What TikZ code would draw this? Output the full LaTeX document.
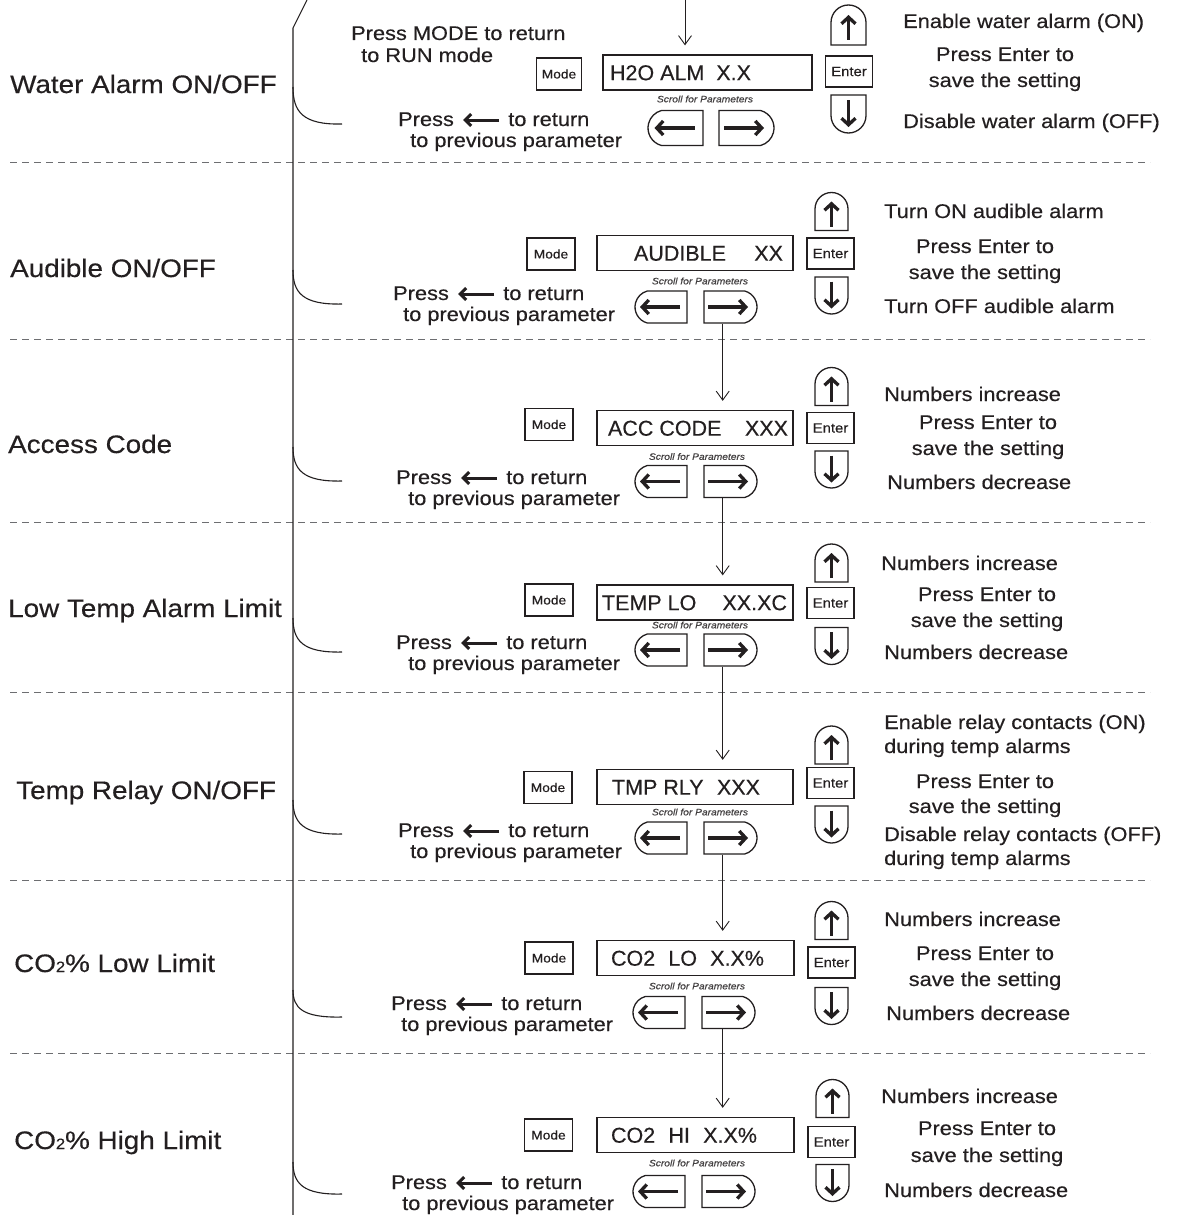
\documentclass[tikz,border=0pt]{standalone}
\usepackage{fontspec}
\setmainfont{Liberation Sans}[FakeStretch=1.1,FakeBold=0.35]
\newfontfamily\dispfont{Liberation Sans}[FakeBold=0.35]
\usetikzlibrary{shapes.misc,arrows.meta}
\definecolor{ink}{HTML}{231F20}
\definecolor{dashc}{HTML}{6D6E71}
\newcommand{\dtxt}[4]{\makebox[#1pt][l]{\hspace{#2pt}\makebox[#3pt][s]{#4}}}
\newcommand{\subtwo}{{\fontsize{15}{15}\selectfont 2}}
\begin{document}
\begin{tikzpicture}[x=1pt,y=-1pt,
  every node/.style={text=ink, inner sep=0pt},
  lbl/.style={anchor=base west, font=\fontsize{25.3}{30}\selectfont},
  txt/.style={anchor=base west, font=\fontsize{19.8}{24}\selectfont},
  ctxt/.style={anchor=base, font=\fontsize{19.8}{24}\selectfont},
  modebox/.style={draw=ink, line width=1.2pt, minimum width=48pt, minimum height=32pt, font=\fontsize{12.5}{14}\selectfont},
  enterbox/.style={draw=ink, line width=1.2pt, minimum width=47pt, minimum height=31pt, font=\fontsize{13.5}{15}\selectfont},
  disp/.style={draw=ink, line width=1.3pt, minimum height=35pt, text height=15.4pt, text depth=0pt, font=\dispfont\fontsize{21.5}{25}\selectfont},
  scroll/.style={font=\fontsize{9.3}{11}\selectfont\itshape, text=ink!85},
  lbtn/.style={draw=ink, line width=1.3pt, rounded rectangle, rounded rectangle right arc=none, rounded rectangle arc length=150, minimum width=52pt, minimum height=32pt},
  rbtn/.style={draw=ink, line width=1.3pt, rounded rectangle, rounded rectangle left arc=none, rounded rectangle arc length=150, minimum width=53pt, minimum height=32pt},
  ubtn/.style={draw=ink, line width=1.3pt, rounded rectangle, rotate=90, rounded rectangle left arc=none, minimum width=38pt, minimum height=33pt},
  dbtn/.style={draw=ink, line width=1.3pt, rounded rectangle, rotate=90, rounded rectangle right arc=none, minimum width=37pt, minimum height=33pt},
  barrow/.style={draw=ink, line width=3.3pt, -{Straight Barb[length=6.5pt,width=14pt]}},
  inarr/.style={draw=ink, line width=3pt, -{Straight Barb[length=6pt,width=12pt]}},
  conn/.style={draw=ink, line width=0.9pt, -{Straight Barb[length=9pt,width=13pt]}, shorten >=9pt},
  sepline/.style={draw=dashc, line width=1pt, dash pattern=on 7pt off 5pt},
  brace/.style={draw=ink, line width=1.1pt}
]
\useasboundingbox (0,0) rectangle (1180,1215);
\fill[white] (0,0) rectangle (1180,1215);

% separators
\foreach \yy in {162.5,339.5,522,692.5,880,1053}
  \draw[sepline] (10,\yy) -- (1150,\yy);

% main bracket line
\coordinate (slant) at (307,0);
\coordinate (vtop) at (293,28);
\coordinate (vbot) at (293,1215);
\draw[brace] (slant) -- (vtop) -- (vbot);
\foreach \ya/\yb in {87/124,270/304,447/481,618/652,800/834,990/1017,1162/1194}
  \draw[brace] (293,\ya) .. controls (293,{\ya+0.65*(\yb-\ya)}) and (302,{\yb+1}) .. (342,\yb);

\coordinate (cx) at (722.7,0);

% ---------------- Section 1
\node[lbl] (lab1) at (10,93) {Water Alarm ON/OFF};
\node[txt] (pm1) at (351,40) {Press MODE to return};
\node[txt] (pm2) at (361,62) {to RUN mode};
\node[modebox, minimum width=45pt] (m1) at (559,74) {Mode};
\node[disp] (d1) at (707.5,72.5) {\dtxt{209}{7}{141}{H2O ALM\hfill X.X}};
\node[scroll] (s1) at (705,99) {Scroll for Parameters};
\node[lbtn, minimum width=55pt, minimum height=35pt] (l1) at (675.5,128) {};
\node[rbtn, minimum width=55pt, minimum height=35pt] (r1) at (746.5,128) {};
\node[ubtn, minimum height=35pt, minimum width=40pt] (u1) at (848.5,25) {};
\node[enterbox] (e1) at (849,71.5) {Enter};
\node[dbtn, minimum height=35pt, minimum width=38pt] (dn1) at (848.5,114) {};
\node[txt] (t1a) at (903,28) {Enable water alarm (ON)};
\node[ctxt] (t1b) at (1005,61) {Press Enter to};
\node[ctxt] (t1c) at (1005,87) {save the setting};
\node[txt] (t1d) at (903,128) {Disable water alarm (OFF)};
\node[txt] (pa1) at (398,126) {Press};
\node[txt] (pb1) at ([xshift=54pt]pa1.base east) {to return};
\node[txt] (pc1) at (410,147) {to previous parameter};
\coordinate (top1) at (685,0);
\draw[conn] (top1) -- (d1.north -| top1);

% ---------------- Section 2
\node[lbl] (lab2) at (10,277) {Audible ON/OFF};
\node[modebox] (m2) at (551,254) {Mode};
\node[disp] (d2) at (695,253) {\dtxt{196}{37}{149}{AUDIBLE\hfill XX}};
\node[scroll] (s2) at (700,281) {Scroll for Parameters};
\node[lbtn] (l2) at (661,307) {};
\node[rbtn] (r2) at (730.5,307) {};
\node[ubtn] (u2) at (831.5,211.5) {};
\node[enterbox] (e2) at (830.5,253.5) {Enter};
\node[dbtn] (dn2) at (831.5,295.5) {};
\node[txt] (t2a) at (884,218) {Turn ON audible alarm};
\node[ctxt] (t2b) at (985,253) {Press Enter to};
\node[ctxt] (t2c) at (985,279) {save the setting};
\node[txt] (t2d) at (884,313) {Turn OFF audible alarm};
\node[txt] (pa2) at (393,300) {Press};
\node[txt] (pb2) at ([xshift=54pt]pa2.base east) {to return};
\node[txt] (pc2) at (403,321) {to previous parameter};

% ---------------- Section 3
\node[lbl] (lab3) at (8,453) {Access Code};
\node[modebox] (m3) at (549,424.5) {Mode};
\node[disp] (d3) at (695,428) {\dtxt{196}{11}{180}{ACC CODE\hfill XXX}};
\node[scroll] (s3) at (697,456.5) {Scroll for Parameters};
\node[lbtn] (l3) at (661,481.5) {};
\node[rbtn] (r3) at (730.5,481.5) {};
\node[ubtn] (u3) at (831.5,386.5) {};
\node[enterbox] (e3) at (830.5,428) {Enter};
\node[dbtn] (dn3) at (831.5,469.5) {};
\node[txt] (t3a) at (884,401) {Numbers increase};
\node[ctxt] (t3b) at (988,429) {Press Enter to};
\node[ctxt] (t3c) at (988,455) {save the setting};
\node[txt] (t3d) at (887,489) {Numbers decrease};
\node[txt] (pa3) at (396,484) {Press};
\node[txt] (pb3) at ([xshift=54pt]pa3.base east) {to return};
\node[txt] (pc3) at (408,505) {to previous parameter};

% ---------------- Section 4
\node[lbl] (lab4) at (8,617) {Low Temp Alarm Limit};
\node[modebox] (m4) at (549,600) {Mode};
\node[disp] (d4) at (695,602.5) {\dtxt{196}{5}{185}{TEMP LO\hfill XX.XC}};
\node[scroll] (s4) at (700,625) {Scroll for Parameters};
\node[lbtn] (l4) at (661,650) {};
\node[rbtn] (r4) at (730.5,650) {};
\node[ubtn] (u4) at (831.5,563) {};
\node[enterbox] (e4) at (830.5,603) {Enter};
\node[dbtn] (dn4) at (831.5,646) {};
\node[txt] (t4a) at (881,570) {Numbers increase};
\node[ctxt] (t4b) at (987,601) {Press Enter to};
\node[ctxt] (t4c) at (987,627) {save the setting};
\node[txt] (t4d) at (884,659) {Numbers decrease};
\node[txt] (pa4) at (396,649) {Press};
\node[txt] (pb4) at ([xshift=54pt]pa4.base east) {to return};
\node[txt] (pc4) at (408,670) {to previous parameter};

% ---------------- Section 5
\node[lbl] (lab5) at (16,799) {Temp Relay ON/OFF};
\node[modebox] (m5) at (548,787.5) {Mode};
\node[disp] (d5) at (695,787) {\dtxt{196}{15}{148}{TMP RLY\hfill XXX}};
\node[scroll] (s5) at (700,812) {Scroll for Parameters};
\node[lbtn] (l5) at (661,838) {};
\node[rbtn] (r5) at (730.5,838) {};
\node[ubtn] (u5) at (831.5,745) {};
\node[enterbox] (e5) at (830.5,783) {Enter};
\node[dbtn] (dn5) at (831.5,824.5) {};
\node[txt] (t5a) at (884,729) {Enable relay contacts (ON)};
\node[txt] (t5b) at (884,753) {during temp alarms};
\node[ctxt] (t5c) at (985,788) {Press Enter to};
\node[ctxt] (t5d) at (985,813) {save the setting};
\node[txt] (t5e) at (884,841) {Disable relay contacts (OFF)};
\node[txt] (t5f) at (884,865) {during temp alarms};
\node[txt] (pa5) at (398,837) {Press};
\node[txt] (pb5) at ([xshift=54pt]pa5.base east) {to return};
\node[txt] (pc5) at (410,858) {to previous parameter};

% ---------------- Section 6
\node[lbl] (lab6) at (14,972) {CO\subtwo\% Low Limit};
\node[modebox] (m6) at (549,958) {Mode};
\node[disp] (d6) at (695.5,958) {\dtxt{197}{14}{153}{CO2\hfill LO\hfill X.X\%}};
\node[scroll] (s6) at (697,986) {Scroll for Parameters};
\node[lbtn] (l6) at (659,1012.5) {};
\node[rbtn] (r6) at (728.5,1012.5) {};
\node[ubtn] (u6) at (831.5,920.5) {};
\node[enterbox] (e6) at (831.5,962.5) {Enter};
\node[dbtn] (dn6) at (831.5,1006) {};
\node[txt] (t6a) at (884,926) {Numbers increase};
\node[ctxt] (t6b) at (985,960) {Press Enter to};
\node[ctxt] (t6c) at (985,986) {save the setting};
\node[txt] (t6d) at (886,1020) {Numbers decrease};
\node[txt] (pa6) at (391,1010) {Press};
\node[txt] (pb6) at ([xshift=54pt]pa6.base east) {to return};
\node[txt] (pc6) at (401,1031) {to previous parameter};

% ---------------- Section 7
\node[lbl] (lab7) at (14,1149) {CO\subtwo\% High Limit};
\node[modebox] (m7) at (548.5,1135) {Mode};
\node[disp] (d7) at (695.5,1135) {\dtxt{197}{14}{146}{CO2\hfill HI\hfill X.X\%}};
\node[scroll] (s7) at (697,1163) {Scroll for Parameters};
\node[lbtn] (l7) at (659,1191.5) {};
\node[rbtn] (r7) at (728.5,1191.5) {};
\node[ubtn] (u7) at (832.5,1098.5) {};
\node[enterbox] (e7) at (831.5,1142) {Enter};
\node[dbtn] (dn7) at (832.5,1183) {};
\node[txt] (t7a) at (881,1103) {Numbers increase};
\node[ctxt] (t7b) at (987,1135) {Press Enter to};
\node[ctxt] (t7c) at (987,1162) {save the setting};
\node[txt] (t7d) at (884,1197) {Numbers decrease};
\node[txt] (pa7) at (391,1189) {Press};
\node[txt] (pb7) at ([xshift=54pt]pa7.base east) {to return};
\node[txt] (pc7) at (402,1210) {to previous parameter};

% arrows inside buttons and text
\foreach \i in {1,...,7}{
  \draw[barrow] ([xshift=19pt]l\i.center) -- ([xshift=-21pt]l\i.center);
  \draw[barrow] ([xshift=-22.5pt]r\i.center) -- ([xshift=17.5pt]r\i.center);
  \draw[barrow] ([yshift=-15pt]u\i.center) -- ([yshift=10pt]u\i.center);
  \draw[barrow] ([yshift=14pt]dn\i.center) -- ([yshift=-13pt]dn\i.center);
  \draw[inarr] ([xshift=-9pt,yshift=6pt]pb\i.base west) -- ([xshift=9pt,yshift=6pt]pa\i.base east);
}

% connectors between sections
\draw[conn] (r2.south -| cx) -- (d3.north -| cx);
\draw[conn] (r3.south -| cx) -- (d4.north -| cx);
\draw[conn] (r4.south -| cx) -- (d5.north -| cx);
\draw[conn] (r5.south -| cx) -- (d6.north -| cx);
\draw[conn] (r6.south -| cx) -- (d7.north -| cx);
\end{tikzpicture}
\end{document}
